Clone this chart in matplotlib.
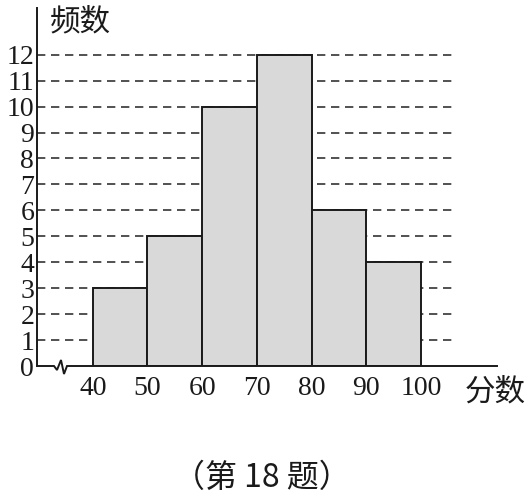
import matplotlib
matplotlib.use("Agg")
import matplotlib.pyplot as plt

# Data
bin_edges = [40, 50, 60, 70, 80, 90, 100]
freqs = [3, 5, 10, 12, 6, 4]
y_ticks = list(range(0, 13))
x_ticks = [40, 50, 60, 70, 80, 90, 100]
y_label = "频数"
x_label = "分数"
caption = "（第 18 题）"

W, H = 529, 500
fig = plt.figure(figsize=(W / 100, H / 100), dpi=100)
ax_left_px, ax_bottom_px, ax_right_px, ax_top_px = 37, 366, 497, 8
ax = fig.add_axes([ax_left_px / W, 1 - ax_bottom_px / H,
                   (ax_right_px - ax_left_px) / W, (ax_bottom_px - ax_top_px) / H])

xmin, xmax = 29.8, 113.9
ymin, ymax = 0, 13.8
ax.set_xlim(xmin, xmax)
ax.set_ylim(ymin, ymax)

# bars
lefts = bin_edges[:-1]
widths = [b - a for a, b in zip(bin_edges[:-1], bin_edges[1:])]
ax.bar(lefts, freqs, width=widths, align="edge", color="#d9d9d9",
       edgecolor="#1a1a1a", linewidth=1.4, zorder=3)

# dashed gridlines
grid_end = 106.4
for yv in y_ticks[1:]:
    ln, = ax.plot([xmin, grid_end], [yv, yv], color="#333333", linewidth=1.2,
                  zorder=1, solid_capstyle="butt")
    ln.set_dashes([5.0, 3.4])

# spines
for s in ["top", "right", "bottom"]:
    ax.spines[s].set_visible(False)
ax.spines["left"].set_linewidth(1.4)
ax.spines["left"].set_color("#1a1a1a")

# bottom axis with zigzag break (defined in pixel offsets from the corner)
inv = ax.transData.inverted()
ox, oy = ax.transData.transform((xmin, 0))
zig_px = [(0, 0), (17, 0), (20, -4), (24, 6), (27, -8), (30, 0)]
zig = [inv.transform((ox + dx, oy + dy)) for dx, dy in zig_px]
zx = [p[0] for p in zig] + [xmax]
zy = [p[1] for p in zig] + [0]
ax.plot(zx, zy, color="#1a1a1a", linewidth=1.4, clip_on=False, zorder=4,
        solid_joinstyle="miter")

ax.set_xticks(x_ticks)
ax.set_yticks(y_ticks)
ax.set_xticklabels([str(v) for v in x_ticks])
ax.set_yticklabels([str(v) for v in y_ticks])
ax.tick_params(axis="both", length=0, labelsize=20, colors="#1a1a1a")
ax.tick_params(axis="y", pad=2)
ax.tick_params(axis="x", pad=7)
for lab in ax.get_xticklabels() + ax.get_yticklabels():
    lab.set_fontfamily("Liberation Serif")

cjk = ["Noto Sans CJK SC", "DejaVu Sans"]
fig.text(50 / W, 1 - 22 / H, y_label, fontsize=22, family=cjk, ha="left",
         va="center", color="#1a1a1a")
fig.text(465 / W, 1 - 392 / H, x_label, fontsize=22, family=cjk, ha="left",
         va="center", color="#1a1a1a")
fig.text(262 / W, 1 - 478 / H, caption, fontsize=23, family=cjk, ha="center",
         va="center", color="#1a1a1a")

fig.savefig("out.png", dpi=100)
